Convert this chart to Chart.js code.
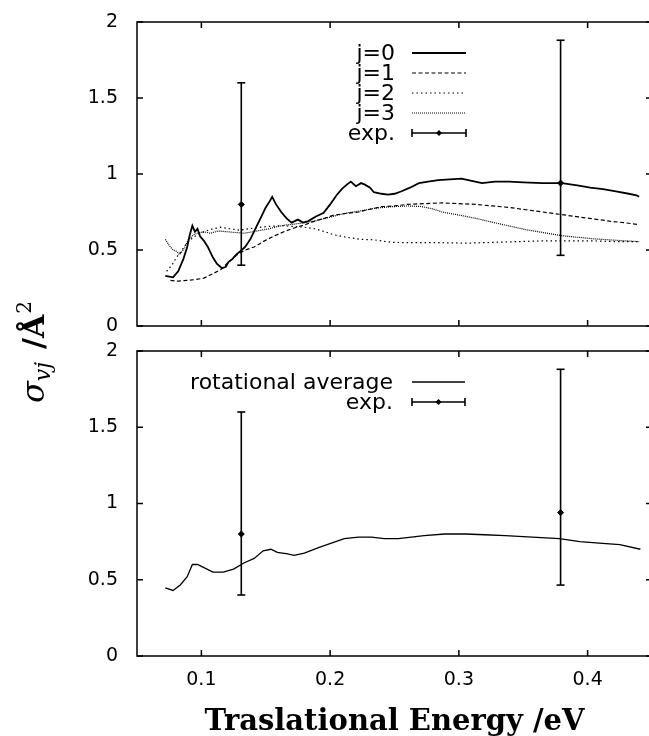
<!DOCTYPE html>
<html>
<head>
<meta charset="utf-8">
<script src="https://cdn.jsdelivr.net/npm/chart.js@4.4.0/dist/chart.umd.min.js"></script>
<style>
  body { margin: 0; background: #fff; }
  #wrap { position: relative; width: 649px; height: 736px; overflow: hidden; }
  canvas { position: absolute; left: 0; }
  #topChart { top: 0; }
  #botChart { top: 330px; }
  #ytitle {
    position: absolute; left: -86px; top: 332px; width: 220px; height: 40px;
    line-height: 40px; text-align: center; transform: rotate(-90deg);
    font-family: "DejaVu Serif", serif; color: #000; white-space: nowrap;
  }
  #ytitle .sig { font-style: italic; font-size: 32px; }
  #ytitle sub { font-style: italic; font-size: 22px; vertical-align: -6px; }
  #ytitle b { font-size: 30px; margin-left: 13px; }
  #ytitle sup { font-size: 20px; vertical-align: 13px; margin-left: 1px; }
</style>
</head>
<body>
<div id="wrap">
  <canvas id="topChart" width="652" height="340" style="width:652px;height:340px"></canvas>
  <canvas id="botChart" width="652" height="406" style="width:652px;height:406px"></canvas>
  <div id="ytitle"><span class="sig">σ</span><sub>vj</sub><b>/Å</b><sup>2</sup></div>
</div>
<script>
// axis ticks
const xTicks = [0.1, 0.2, 0.3, 0.4];
const yTicks = [0, 0.5, 1, 1.5, 2];

const topLabels = ['j=0', 'j=1', 'j=2', 'j=3', 'exp.'];
const botLabels = ['rotational average', 'exp.'];

// j=0
const j0Energy = [0.072,0.078,0.082,0.086,0.089,0.091,0.093,0.095,0.097,0.099,0.102,0.105,0.109,0.112,0.116,0.119,0.121,0.124,0.127,0.130,0.134,0.138,0.142,0.146,0.150,0.153,0.155,0.158,0.162,0.166,0.170,0.175,0.179,0.183,0.189,0.195,0.200,0.205,0.209,0.213,0.216,0.220,0.224,0.227,0.231,0.234,0.240,0.245,0.250,0.255,0.262,0.269,0.276,0.284,0.293,0.302,0.310,0.318,0.328,0.339,0.350,0.365,0.380,0.392,0.402,0.412,0.422,0.432,0.438,0.440];
const j0Sigma  = [0.33,0.32,0.36,0.44,0.52,0.60,0.66,0.62,0.64,0.59,0.56,0.52,0.45,0.41,0.38,0.39,0.42,0.44,0.47,0.49,0.52,0.57,0.64,0.71,0.78,0.82,0.85,0.80,0.75,0.71,0.68,0.70,0.68,0.69,0.72,0.745,0.80,0.86,0.90,0.93,0.95,0.92,0.94,0.93,0.91,0.88,0.87,0.865,0.87,0.885,0.91,0.94,0.95,0.96,0.965,0.97,0.955,0.94,0.95,0.95,0.945,0.94,0.94,0.925,0.91,0.90,0.885,0.87,0.86,0.85];

// j=1
const j1Energy = [0.076,0.082,0.089,0.095,0.102,0.108,0.115,0.121,0.128,0.134,0.141,0.148,0.156,0.164,0.172,0.180,0.188,0.196,0.203,0.212,0.222,0.232,0.240,0.250,0.260,0.273,0.287,0.300,0.313,0.326,0.339,0.352,0.365,0.378,0.391,0.404,0.417,0.428,0.440];
const j1Sigma  = [0.30,0.295,0.30,0.305,0.315,0.34,0.37,0.42,0.47,0.50,0.52,0.555,0.59,0.62,0.645,0.665,0.69,0.71,0.73,0.74,0.75,0.77,0.785,0.79,0.80,0.805,0.81,0.805,0.80,0.79,0.78,0.765,0.75,0.735,0.72,0.705,0.69,0.68,0.667];

// j=2
const j2Energy = [0.073,0.077,0.081,0.085,0.089,0.094,0.099,0.107,0.115,0.122,0.130,0.141,0.152,0.162,0.172,0.180,0.188,0.196,0.203,0.212,0.224,0.234,0.248,0.267,0.287,0.306,0.326,0.345,0.365,0.385,0.404,0.422,0.440];
const j2Sigma  = [0.36,0.40,0.455,0.50,0.55,0.585,0.61,0.635,0.65,0.64,0.63,0.645,0.655,0.66,0.655,0.65,0.64,0.62,0.60,0.585,0.57,0.567,0.55,0.548,0.548,0.545,0.55,0.555,0.56,0.56,0.56,0.555,0.555];

// j=3
const j3Energy = [0.072,0.075,0.078,0.081,0.083,0.086,0.090,0.094,0.097,0.102,0.107,0.113,0.120,0.127,0.133,0.140,0.146,0.153,0.159,0.166,0.172,0.180,0.188,0.197,0.206,0.214,0.222,0.235,0.248,0.260,0.271,0.280,0.287,0.300,0.312,0.325,0.338,0.352,0.366,0.380,0.392,0.404,0.420,0.440];
const j3Sigma  = [0.57,0.53,0.50,0.49,0.47,0.50,0.57,0.60,0.61,0.62,0.61,0.625,0.62,0.615,0.61,0.62,0.63,0.64,0.655,0.665,0.67,0.68,0.69,0.71,0.73,0.745,0.755,0.775,0.785,0.79,0.786,0.77,0.75,0.73,0.71,0.685,0.66,0.634,0.614,0.594,0.584,0.574,0.565,0.555];

// rotational average
const avgEnergy = [0.072,0.078,0.0836,0.089,0.093,0.097,0.102,0.109,0.117,0.125,0.133,0.141,0.148,0.154,0.159,0.167,0.172,0.180,0.191,0.201,0.211,0.222,0.232,0.242,0.253,0.263,0.273,0.289,0.305,0.320,0.336,0.357,0.378,0.394,0.409,0.425,0.441];
const avgSigma  = [0.446,0.43,0.466,0.52,0.60,0.60,0.58,0.55,0.55,0.57,0.61,0.64,0.69,0.70,0.68,0.67,0.66,0.675,0.71,0.74,0.77,0.78,0.78,0.77,0.77,0.78,0.79,0.80,0.80,0.795,0.79,0.78,0.77,0.75,0.74,0.73,0.70];

// experiment
const expEnergy = [0.131, 0.379];
const expSigma  = [0.80, 0.94];
const expLow    = [0.40, 0.465];
const expHigh   = [1.60, 1.88];

const pts = (xs, ys) => xs.map((x, i) => ({ x: x, y: ys[i] }));

function curve(label, xs, ys, width, dash) {
  return { label: label, data: pts(xs, ys), showLine: true, borderColor: '#000',
    borderWidth: width, borderDash: dash, pointRadius: 0, tension: 0, fill: false };
}

function expSets(label) {
  const sets = expEnergy.map((e, i) => ({
    data: [{ x: e, y: expLow[i] }, { x: e, y: expHigh[i] }],
    showLine: true, borderColor: '#000', borderWidth: 1.6,
    pointStyle: 'line', pointRadius: 4, pointBorderWidth: 1.6, pointBorderColor: '#000'
  }));
  sets.push({ label: label, data: pts(expEnergy, expSigma), showLine: false,
    pointStyle: 'rectRot', pointRadius: 3, backgroundColor: '#000', borderColor: '#000', isExp: true });
  return sets;
}

// frame with inward ticks on all sides
const framePlugin = {
  id: 'frame',
  afterDatasetsDraw(chart) {
    const { ctx, chartArea: a } = chart;
    const x = chart.scales.x, y = chart.scales.y;
    ctx.save();
    ctx.strokeStyle = '#000';
    ctx.lineWidth = 1.5;
    ctx.strokeRect(a.left, a.top, a.right - a.left, a.bottom - a.top);
    ctx.beginPath();
    xTicks.forEach(v => {
      const px = x.getPixelForValue(v);
      ctx.moveTo(px, a.bottom); ctx.lineTo(px, a.bottom - 6);
      ctx.moveTo(px, a.top); ctx.lineTo(px, a.top + 6);
    });
    yTicks.forEach(v => {
      const py = y.getPixelForValue(v);
      ctx.moveTo(a.left, py); ctx.lineTo(a.left + 6, py);
      ctx.moveTo(a.right, py); ctx.lineTo(a.right - 6, py);
    });
    ctx.stroke();
    ctx.restore();
  }
};

// gnuplot style key: text right aligned, sample to the right
const keyPlugin = {
  id: 'key',
  afterDraw(chart, args, o) {
    const ctx = chart.ctx;
    ctx.save();
    ctx.font = '22px "DejaVu Sans"';
    ctx.textAlign = 'right';
    ctx.textBaseline = 'middle';
    ctx.fillStyle = '#000';
    ctx.strokeStyle = '#000';
    let row = 0;
    chart.data.datasets.forEach(ds => {
      if (!ds.label) return;
      const yy = o.y + row * o.dy;
      ctx.fillText(ds.label, o.textX, yy + 1);
      ctx.beginPath();
      if (ds.isExp) {
        ctx.setLineDash([]);
        ctx.lineWidth = 1.6;
        ctx.moveTo(o.x0, yy); ctx.lineTo(o.x1, yy);
        ctx.moveTo(o.x0, yy - 4); ctx.lineTo(o.x0, yy + 4);
        ctx.moveTo(o.x1, yy - 4); ctx.lineTo(o.x1, yy + 4);
        ctx.stroke();
        const mx = (o.x0 + o.x1) / 2;
        ctx.beginPath();
        ctx.moveTo(mx, yy - 3); ctx.lineTo(mx + 3, yy); ctx.lineTo(mx, yy + 3); ctx.lineTo(mx - 3, yy);
        ctx.closePath();
        ctx.fill();
      } else {
        ctx.setLineDash(ds.borderDash || []);
        ctx.lineWidth = ds.borderWidth;
        ctx.moveTo(o.x0, yy); ctx.lineTo(o.x1, yy);
        ctx.stroke();
      }
      row++;
    });
    ctx.restore();
  }
};

function makeChart(id, datasets, showX, pad, key) {
  return new Chart(document.getElementById(id), {
    type: 'scatter',
    data: { datasets: datasets },
    plugins: [framePlugin, keyPlugin],
    options: {
      responsive: false,
      animation: false,
      layout: { padding: pad, autoPadding: false },
      plugins: { legend: { display: false }, tooltip: { enabled: false }, key: key },
      scales: {
        x: {
          type: 'linear', min: 0.05, max: 0.45, display: showX,
          afterBuildTicks: s => { s.ticks = xTicks.map(v => ({ value: v })); },
          afterFit: s => { if (showX) s.height = 80; },
          grid: { display: false, drawTicks: false }, border: { display: false },
          ticks: { color: '#000', padding: 13, font: { family: 'DejaVu Sans', size: 19 }, callback: v => String(v) },
          title: { display: true, text: 'Traslational Energy /eV', color: '#000', padding: { top: 0, bottom: -1 },
            font: { family: 'DejaVu Serif', weight: 'bold', size: 29, lineHeight: 1 } }
        },
        y: {
          type: 'linear', min: 0, max: 2,
          afterBuildTicks: s => { s.ticks = yTicks.map(v => ({ value: v })); },
          afterFit: s => { s.width = 137; },
          grid: { display: false, drawTicks: true, tickLength: 19 }, border: { display: false },
          ticks: { color: '#000', padding: 0, font: { family: 'DejaVu Sans', size: 19 }, callback: v => String(v) }
        }
      }
    }
  });
}

const topSets = [
  curve(topLabels[0], j0Energy, j0Sigma, 1.8, []),
  curve(topLabels[1], j1Energy, j1Sigma, 1.2, [4, 2.5]),
  curve(topLabels[2], j2Energy, j2Sigma, 1.2, [1.5, 3]),
  curve(topLabels[3], j3Energy, j3Sigma, 1.2, [1, 1])
].concat(expSets(topLabels[4]));

const botSets = [
  curve(botLabels[0], avgEnergy, avgSigma, 1.3, [])
].concat(expSets(botLabels[1]));

makeChart('topChart', topSets, false, { top: 22, bottom: 14, left: 0, right: 0 },
  { textX: 395, x0: 412, x1: 466, y: 53, dy: 20 });
makeChart('botChart', botSets, true, { top: 21, bottom: 0, left: 0, right: 0 },
  { textX: 393, x0: 412, x1: 465, y: 52, dy: 20 });
</script>
</body>
</html>
